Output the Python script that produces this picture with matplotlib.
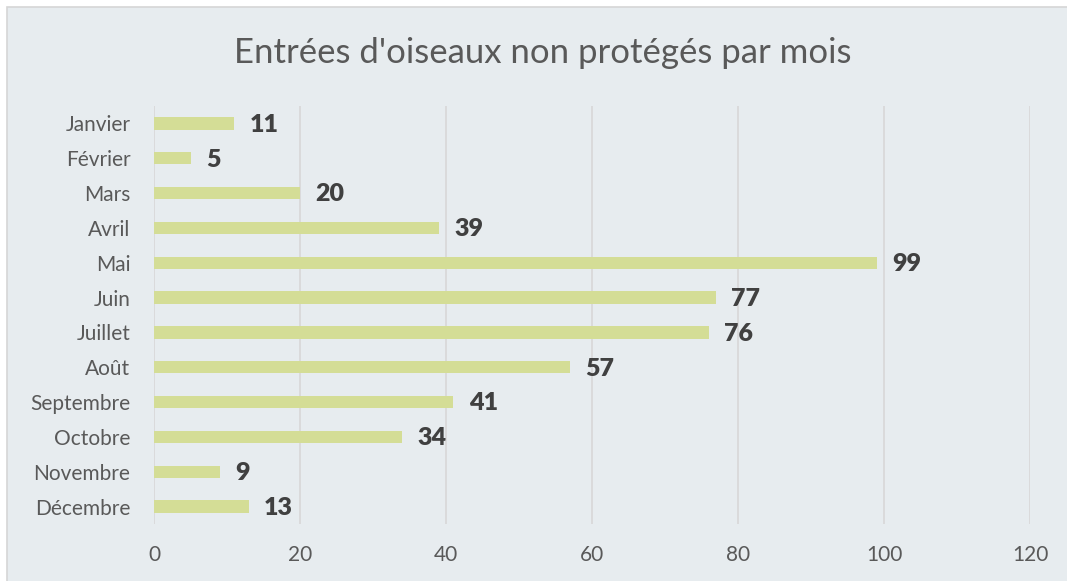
import matplotlib
matplotlib.use("Agg")
import matplotlib.pyplot as plt
from matplotlib.patches import Rectangle

months = ["Janvier", "Février", "Mars", "Avril", "Mai", "Juin", "Juillet",
          "Août", "Septembre", "Octobre", "Novembre", "Décembre"]
values = [11, 5, 20, 39, 99, 77, 76, 57, 41, 34, 9, 13]
xticks = [0, 20, 40, 60, 80, 100, 120]
title = "Entrées d'oiseaux non protégés par mois"

plt.rcParams['font.family'] = ['Lato', 'DejaVu Sans']

W, H = 1067, 581
fig = plt.figure(figsize=(W / 100, H / 100), dpi=100, facecolor="white")
bg = "#E7ECEF"
rect = Rectangle((7 / W, -0.02), 1.05, 1 - 7 / H + 0.02, transform=fig.transFigure,
                 facecolor=bg, edgecolor="#D6D6D6", linewidth=1.2, zorder=-10)
fig.patches.append(rect)

ax = fig.add_axes([154 / W, 1 - 524 / H, (1030 - 154) / W, (524 - 106) / H])
ax.set_zorder(1)
ax.set_facecolor("none")
ypos = list(range(len(months)))
ax.barh(ypos, values, height=0.355, color="#D4DD96", zorder=3)
ax.set_ylim(len(months) - 0.5, -0.5)
ax.set_xlim(0, 120)
ax.set_xticks(xticks)
ax.set_xticklabels([str(t) for t in xticks], fontsize=15, color="#595959")
ax.set_yticks(ypos)
ax.set_yticklabels(months, fontsize=15, color="#595959")
ax.tick_params(length=0, pad=17)
ax.tick_params(axis='x', pad=15)
ax.set_axisbelow(True)
ax.xaxis.grid(True, color="#D9D9D9", linewidth=1.3)
for s in ax.spines.values():
    s.set_visible(False)

for y, v in zip(ypos, values):
    ax.annotate(str(v), (v, y), xytext=(11, -1), textcoords="offset points",
                va="center", ha="left", fontsize=18, fontweight="heavy", color="#404040")

fig.text(543 / W, 1 - 53 / H, title, ha="center", va="center", fontsize=25, color="#595959")

fig.savefig("out.png", dpi=100, facecolor="white")
